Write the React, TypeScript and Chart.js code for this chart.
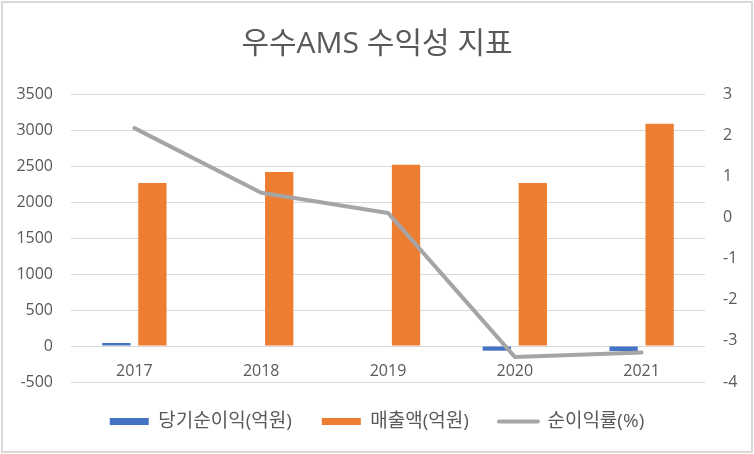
import React, { useEffect, useRef } from "react";
import { Chart, registerables } from "chart.js";

Chart.register(...registerables);

const chartTitle = "우수AMS 수익성 지표";
const categories = ["2017", "2018", "2019", "2020", "2021"];
const seriesNames = ["당기순이익(억원)", "매출액(억원)", "순이익률(%)"];
const netIncome = [42, 0, 0, -65, -70];
const revenue = [2265, 2418, 2516, 2265, 3087];
const profitMargin = [2.17, 0.6, 0.11, -3.39, -3.28];
const leftTicks = { min: -500, max: 3500, step: 500 };
const rightTicks = { min: -4, max: 3, step: 1 };

const FONT = "'Open Sans', 'Noto Sans CJK KR', sans-serif";
const TEXT = "#595959";

export default function App() {
  const ref = useRef<HTMLCanvasElement | null>(null);

  useEffect(() => {
    if (!ref.current) return;
    const chart = new Chart(ref.current, {
      type: "bar",
      data: {
        labels: categories,
        datasets: [
          {
            type: "bar",
            label: seriesNames[0],
            data: netIncome,
            backgroundColor: "#4472c4",
            borderWidth: 0,
            yAxisID: "y",
            order: 2,
            categoryPercentage: 0.568,
            barPercentage: 0.786,
          },
          {
            type: "bar",
            label: seriesNames[1],
            data: revenue,
            backgroundColor: "#ed7d31",
            borderWidth: 0,
            yAxisID: "y",
            order: 2,
            categoryPercentage: 0.568,
            barPercentage: 0.786,
          },
          {
            type: "line",
            label: seriesNames[2],
            data: profitMargin,
            borderColor: "#a5a5a5",
            backgroundColor: "#a5a5a5",
            borderWidth: 4,
            pointRadius: 0,
            tension: 0,
            borderCapStyle: "round",
            borderJoinStyle: "round",
            yAxisID: "y1",
            order: 0,
          },
        ],
      },
      options: {
        animation: false,
        responsive: false,
        maintainAspectRatio: false,
        layout: { padding: { left: 0, right: 0, top: 0, bottom: 13 } },
        plugins: {
          title: {
            display: true,
            text: chartTitle,
            color: TEXT,
            font: { family: FONT, size: 30, weight: "normal" },
            padding: { top: 26, bottom: 32 },
          },
          legend: {
            position: "bottom",
            labels: {
              color: TEXT,
              font: { family: FONT, size: 19 },
              usePointStyle: true,
              pointStyleWidth: 39,
              boxHeight: 7,
              padding: 30,
              sort: (a: any, b: any) => a.datasetIndex - b.datasetIndex,
              generateLabels: (c: any) => {
                const items = Chart.defaults.plugins.legend.labels.generateLabels(c);
                return items.map((it: any) => {
                  if (it.datasetIndex === 2) {
                    return { ...it, pointStyle: "line", lineWidth: 4, strokeStyle: "#a5a5a5", lineCap: "round" };
                  }
                  return { ...it, pointStyle: "rect", lineWidth: 0 };
                });
              },
            },
          },
          tooltip: { enabled: false },
        },
        scales: {
          x: {
            position: { y: 0 } as any,
            grid: { display: false, drawTicks: false },
            border: { display: false },
            ticks: { color: TEXT, font: { family: FONT, size: 16 }, padding: 16 },
          },
          y: {
            position: "left",
            min: leftTicks.min,
            max: leftTicks.max,
            ticks: {
              stepSize: leftTicks.step,
              color: TEXT,
              font: { family: FONT, size: 16 },
              padding: 18,
              callback: (v: any) => String(v),
            },
            grid: { color: "#d9d9d9", lineWidth: 1, drawTicks: false },
            border: { display: false },
            afterFit: (s: any) => {
              s.width = 71;
            },
          },
          y1: {
            position: "right",
            min: rightTicks.min,
            max: rightTicks.max,
            ticks: {
              stepSize: rightTicks.step,
              color: TEXT,
              font: { family: FONT, size: 16 },
              padding: 18,
              callback: (v: any) => String(v),
            },
            grid: { display: false, drawTicks: false },
            border: { display: false },
            afterFit: (s: any) => {
              s.width = 49;
            },
          },
        },
      },
    });
    return () => chart.destroy();
  }, []);

  return (
    <div style={{ position: "absolute", left: 0, top: 0, width: 754, height: 454, background: "#fff" }}>
      <canvas ref={ref} width={754} height={454} style={{ display: "block", width: 754, height: 454 }} />
      <div
        style={{
          position: "absolute",
          left: 1,
          top: 1,
          width: 752,
          height: 452,
          boxSizing: "border-box",
          border: "2px solid #d9d9d9",
          pointerEvents: "none",
        }}
      />
    </div>
  );
}
